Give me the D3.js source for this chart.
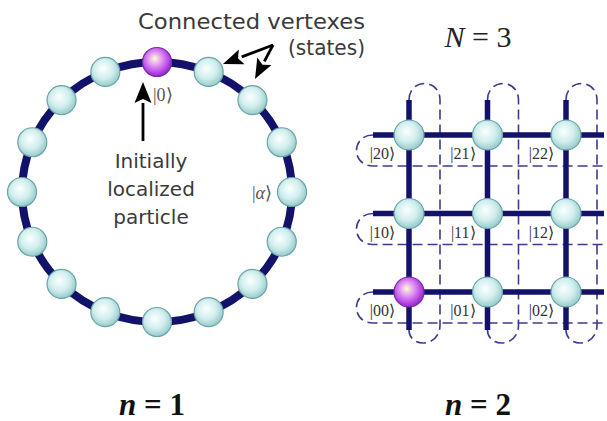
<!DOCTYPE html>
<html>
<head>
<meta charset="utf-8">
<script src="https://cdn.jsdelivr.net/npm/d3@7/dist/d3.min.js"></script>
<style>
  body { margin: 0; background: #ffffff; }
  .serif { font-family: "Liberation Serif", "Times New Roman", Times, serif; }
  .sans { font-family: "DejaVu Sans", sans-serif; }
</style>
</head>
<body>
<svg></svg>
<script>
// ring (n = 1): 16 vertexes, index 0 holds the particle
var ringNodes = d3.range(16);
var startNode = 0;
var alphaNode = 4;

// grid (n = 2), N = 3
var gridCols = [0, 1, 2];
var gridRows = [0, 1, 2];
var startCell = [0, 0];

var titleText = ["Connected vertexes", "(states)"];
var particleText = ["Initially", "localized", "particle"];

var width = 607,
	height = 421,
	navy = '#12126a',
	dashNavy = '#3c3c8c';

var svg = d3.select("svg")
	.attr('width', width)
	.attr('height', height)
	.style('background', '#ffffff');

var defs = svg.append('defs');

function ballGradient(id, stops){
	var g = defs.append('radialGradient').attr('id', id)
		.attr('cx', '45%').attr('cy', '42%').attr('r', '60%')
		.attr('fx', '42%').attr('fy', '38%');
	g.selectAll('stop').data(stops)
		.enter().append('stop')
		.attr('offset', function (d){ return d[0]; })
		.attr('stop-color', function (d){ return d[1]; });
}
ballGradient('cyanBall', [['0%', '#fbffff'], ['55%', '#d2eeee'], ['100%', '#92c8c8']]);
ballGradient('purpleBall', [['0%', '#ffffc8'], ['35%', '#e6a0f4'], ['75%', '#b84ae6'], ['100%', '#8a22c4']]);

// ---------- ring ----------
var cx = 157, cy = 192, rx = 135, ry = 130;
var angle = d3.scaleLinear().domain([0, ringNodes.length]).range([0, 2 * Math.PI]);

svg.append('ellipse')
	.attr('cx', cx).attr('cy', cy)
	.attr('rx', rx).attr('ry', ry)
	.style('fill', 'none')
	.style('stroke', navy)
	.style('stroke-width', 8);

svg.append('g').selectAll('circle').data(ringNodes)
	.enter().append('circle')
		.attr('cx', function (d){ return cx + rx * Math.sin(angle(d)); })
		.attr('cy', function (d){ return cy - ry * Math.cos(angle(d)); })
		.attr('r', 14.5)
		.style('fill', function (d){ return d === startNode ? 'url(#purpleBall)' : 'url(#cyanBall)'; })
		.style('stroke', function (d){ return d === startNode ? '#7a2aa8' : '#6aa4a6'; })
		.style('stroke-width', 1.2);

// arrows
function arrow(x1, y1, x2, y2, headLen, headW){
	var dx = x2 - x1, dy = y2 - y1, L = Math.sqrt(dx * dx + dy * dy);
	var ux = dx / L, uy = dy / L, bx = x2 - ux * headLen, by = y2 - uy * headLen;
	svg.append('line')
		.attr('x1', x1).attr('y1', y1).attr('x2', bx).attr('y2', by)
		.style('stroke', '#000').style('stroke-width', 2.8);
	svg.append('polygon')
		.attr('points', [[x2, y2], [bx - uy * headW / 2, by + ux * headW / 2], [bx + ux * 4, by + uy * 4], [bx + uy * headW / 2, by - ux * headW / 2]].join(' '))
		.style('fill', '#000');
}
arrow(143, 141, 143, 82, 21, 17);
arrow(273, 45, 223, 64, 20, 16);
arrow(273, 45, 255, 79, 20, 16);

svg.append('text').attr('class', 'sans').text(titleText[0])
	.attr('x', 138).attr('y', 29)
	.attr('textLength', 227).attr('lengthAdjust', 'spacingAndGlyphs')
	.style('font-size', '21px').style('fill', '#3a3a3a');
svg.append('text').attr('class', 'sans').text(titleText[1])
	.attr('x', 288).attr('y', 55)
	.attr('textLength', 77).attr('lengthAdjust', 'spacingAndGlyphs')
	.style('font-size', '21px').style('fill', '#3a3a3a');

svg.append('g').selectAll('text').data(particleText)
	.enter().append('text')
		.attr('class', 'sans')
		.text(function (d){ return d; })
		.attr('x', 151)
		.attr('y', function (d, i){ return 168 + i * 28; })
		.attr('text-anchor', 'middle')
		.style('font-size', '20px').style('fill', '#3a3a3a');

svg.append('text').attr('class', 'serif').text('|0\u27E9')
	.attr('x', 153).attr('y', 101)
	.style('font-size', '18px').style('fill', '#555');

var alphaLabel = svg.append('text')
	.attr('class', 'serif')
	.attr('x', cx + rx * Math.sin(angle(alphaNode)) - 20)
	.attr('y', cy + 7)
	.attr('text-anchor', 'end')
	.style('font-size', '18px').style('fill', '#555');
alphaLabel.append('tspan').text('|');
alphaLabel.append('tspan').text('\u03B1').style('font-style', 'italic');
alphaLabel.append('tspan').text('\u27E9');

// ---------- grid ----------
var gx = d3.scaleLinear().domain([0, 2]).range([409, 566]);
var gy = d3.scaleLinear().domain([0, 2]).range([292, 135]);
var off = 31, yTop = 100, yBot = 330, xLeft = 373, xRight = 604;

var grid = svg.append('g');

// dashed copies + periodic loops
grid.selectAll('.dv').data(gridCols)
	.enter().append('path')
		.attr('d', function (d){
			var x = gx(d);
			return 'M' + x + ',' + yTop + ' C' + x + ',' + (yTop - 22) + ' ' + (x + off) + ',' + (yTop - 22) + ' ' + (x + off) + ',' + yTop +
				' L' + (x + off) + ',' + (yBot - 5) +
				' C' + (x + off) + ',' + (yBot + 18) + ' ' + x + ',' + (yBot + 18) + ' ' + x + ',' + yBot;
		});
grid.selectAll('.dh').data(gridRows)
	.enter().append('path')
		.attr('d', function (d){
			var y = gy(d);
			return 'M' + xLeft + ',' + y + ' C' + (xLeft - 22) + ',' + y + ' ' + (xLeft - 22) + ',' + (y + off) + ' ' + xLeft + ',' + (y + off) +
				' L' + xRight + ',' + (y + off);
		});
grid.selectAll('path')
	.style('fill', 'none')
	.style('stroke', dashNavy)
	.style('stroke-width', 1.6)
	.style('stroke-dasharray', '10,5');

// solid links
grid.selectAll('.sv').data(gridCols)
	.enter().append('line')
		.attr('x1', function (d){ return gx(d); }).attr('x2', function (d){ return gx(d); })
		.attr('y1', yTop).attr('y2', yBot)
		.style('stroke', navy).style('stroke-width', 5.5);
grid.selectAll('.sh').data(gridRows)
	.enter().append('line')
		.attr('y1', function (d){ return gy(d); }).attr('y2', function (d){ return gy(d); })
		.attr('x1', xLeft).attr('x2', xRight)
		.style('stroke', navy).style('stroke-width', 5.5);

var cells = [];
gridRows.forEach(function (r){ gridCols.forEach(function (c){ cells.push([r, c]); }); });

grid.selectAll('circle').data(cells)
	.enter().append('circle')
		.attr('cx', function (d){ return gx(d[1]); })
		.attr('cy', function (d){ return gy(d[0]); })
		.attr('r', 15)
		.style('fill', function (d){ return d[0] === startCell[0] && d[1] === startCell[1] ? 'url(#purpleBall)' : 'url(#cyanBall)'; })
		.style('stroke', function (d){ return d[0] === startCell[0] && d[1] === startCell[1] ? '#7a2aa8' : '#6aa4a6'; })
		.style('stroke-width', 1.2);

grid.selectAll('text').data(cells)
	.enter().append('text')
		.attr('class', 'serif')
		.text(function (d){ return '|' + d[0] + d[1] + '\u27E9'; })
		.attr('x', function (d){ return gx(d[1]) - (d[1] === 0 ? 14 : 12); })
		.attr('y', function (d){ return gy(d[0]) + 24; })
		.attr('text-anchor', 'end')
		.style('font-size', '16px').style('fill', '#333');

// ---------- titles ----------
var nTitle = svg.append('text')
	.attr('class', 'serif')
	.attr('x', 478).attr('y', 47).attr('text-anchor', 'middle')
	.style('font-size', '30px').style('fill', '#222');
nTitle.append('tspan').text('N').style('font-style', 'italic');
nTitle.append('tspan').text(' = 3');

[['1', 152], ['2', 478]].forEach(function (d){
	var t = svg.append('text')
		.attr('class', 'serif')
		.attr('x', d[1]).attr('y', 415).attr('text-anchor', 'middle')
		.style('font-size', '31px')
		.style('font-weight', 'bold').style('fill', '#111');
	t.append('tspan').text('n').style('font-style', 'italic');
	t.append('tspan').text(' = ' + d[0]);
});
</script>
</body>
</html>
